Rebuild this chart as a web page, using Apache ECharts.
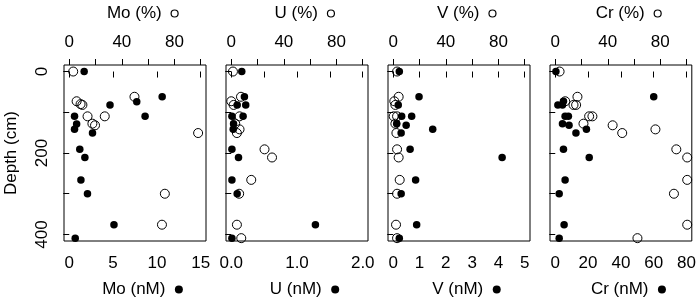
<!DOCTYPE html>
<html>
<head>
<meta charset="utf-8">
<script src="https://cdn.jsdelivr.net/npm/echarts@6/dist/echarts.min.js"></script>
<style>
html,body{margin:0;padding:0;background:#fff}
#chart{width:699px;height:303px}
</style>
</head>
<body>
<div id="chart"></div>
<script>
// panels, left to right
let elements = ["Mo", "U", "V", "Cr"];

// dissolved (nM), filled dots
let moNmDepth = [0, 62, 74, 82, 110, 110, 129, 142, 151, 191, 211, 266, 300, 376, 409];
let moNm      = [1.7, 10.6, 7.7, 4.65, 8.65, 0.6, 0.84, 0.6, 2.65, 1.2, 1.78, 1.33, 2.08, 5.1, 0.68];
let uNmDepth  = [0, 62, 82, 82, 110, 110, 128, 142, 191, 211, 266, 300, 376, 409];
let uNm       = [0.16, 0.2, 0.22, 0.09, 0.18, 0.01, 0.035, 0.03, 0.01, 0.11, 0.01, 0.09, 1.28, 0.01];
let vNmDepth  = [0, 62, 82, 110, 110, 128, 132, 142, 151, 191, 211, 266, 300, 376, 409];
let vNm       = [0.23, 0.98, 0.19, 0.32, 0.7, 0.13, 0.49, 1.5, 0.3, 0.64, 4.14, 0.85, 0.3, 0.89, 0.23];
let crNmDepth = [0, 62, 73, 82, 82, 110, 110, 128, 132, 142, 151, 191, 211, 266, 300, 376, 409];
let crNm      = [0.4, 60, 5, 1.6, 4.4, 6, 8, 4.4, 8.4, 19, 12.6, 5, 20.7, 6, 2.4, 5.4, 2.4];

// percentages, open circles
let moPctDepth = [0, 62, 73, 80, 82, 110, 110, 128, 132, 151, 300, 376];
let moPct      = [3, 49.6, 5.6, 8.6, 10, 13.9, 27, 17.6, 19.6, 98, 72.7, 70.5];
let uPctDepth  = [0, 62, 73, 82, 110, 128, 142, 151, 191, 211, 266, 300, 376, 409];
let uPct       = [1.3, 7.4, 0, 1.8, 6.3, 3, 6.3, 4.3, 25.3, 31, 15.2, 6, 4.3, 7.6];
let vPctDepth  = [0, 62, 73, 82, 110, 110, 128, 151, 191, 211, 266, 300, 376, 409];
let vPct       = [2.9, 4.1, 0.8, 1.6, 0.3, 2.9, 1.6, 2.4, 2.9, 4.1, 4.9, 2.9, 2.1, 2.9];
let crPctDepth = [0, 62, 73, 82, 82, 110, 110, 128, 132, 142, 151, 191, 211, 266, 300, 376, 409];
let crPct      = [3.3, 16.9, 7.6, 13.9, 15.9, 25.8, 28.3, 21.5, 43.7, 76.3, 51, 92.2, 100.5, 100.5, 90.4, 100.5, 62.6];

// tick marks and labels
let nmTicks   = [[0, 5, 10, 15], [0, 0.5, 1, 1.5, 2], [0, 1, 2, 3, 4, 5], [0, 20, 40, 60, 80]];
let nmLabels  = [[0, 5, 10, 15], [0, 1, 2], [0, 1, 2, 3, 4, 5], [0, 20, 40, 60, 80]];
let nmRange   = [[-0.6, 15.6], [-0.08, 2.08], [-0.2, 5.2], [-3.2, 83.2]];
let pctTicks  = [0, 20, 40, 60, 80, 100];
let pctLabels = [0, 40, 80];
let depthTicks  = [0, 100, 200, 300, 400];
let depthLabels = [0, 200, 400];

let nmData  = [[moNm, moNmDepth], [uNm, uNmDepth], [vNm, vNmDepth], [crNm, crNmDepth]];
let pctData = [[moPct, moPctDepth], [uPct, uPctDepth], [vPct, vPctDepth], [crPct, crPctDepth]];

let font = "Liberation Sans, Arial, sans-serif";
let fs = 17;
let gridLeft = [64, 226, 388, 550];
let rich = {
    sp:   {width: 15},
    dot:  {width: 8, height: 8, borderRadius: 4, backgroundColor: "#000"},
    ring: {width: 7, height: 7, borderRadius: 5, borderColor: "#000", borderWidth: 1.2}
};
let tickStyle = {show: true, length: 6, lineStyle: {color: "#000", width: 1}};

let pairs = (xs, ys) => xs.map((x, i) => [x, ys[i]]);

let grid = [], xAxis = [], yAxis = [], series = [];
for (let i = 0; i < 4; i++) {
    grid.push({left: gridLeft[i], top: 60, width: 142, height: 182,
        show: true, borderColor: "#000", borderWidth: 1, backgroundColor: "transparent"});
    // bottom: nM
    xAxis.push({
        type: "value", gridIndex: i, position: "bottom",
        min: nmRange[i][0], max: nmRange[i][1],
        axisLine: {show: false}, splitLine: {show: false},
        axisTick: Object.assign({customValues: nmTicks[i]}, tickStyle),
        axisLabel: {customValues: nmLabels[i], margin: 14, color: "#000", fontSize: fs, fontFamily: font,
            formatter: v => i === 1 ? v.toFixed(1) : String(v)},
        name: "{sp|}" + elements[i] + " (nM)  {dot|}", nameLocation: "middle", nameGap: 40,
        nameTextStyle: {color: "#000", fontSize: fs, fontFamily: font, rich: rich}
    });
    // top: %
    xAxis.push({
        type: "value", gridIndex: i, position: "top",
        min: -4, max: 104,
        axisLine: {show: false}, splitLine: {show: false},
        axisTick: Object.assign({customValues: pctTicks}, tickStyle),
        axisLabel: {customValues: pctLabels, margin: 14, color: "#000", fontSize: fs, fontFamily: font},
        name: "{sp|}" + elements[i] + " (%)  {ring|}", nameLocation: "middle", nameGap: 43,
        nameTextStyle: {color: "#000", fontSize: fs, fontFamily: font, rich: rich}
    });
    yAxis.push({
        type: "value", gridIndex: i, inverse: true,
        min: -16, max: 416,
        axisLine: {show: false}, splitLine: {show: false},
        axisTick: Object.assign({customValues: depthTicks}, tickStyle),
        axisLabel: {show: i === 0, customValues: depthLabels, rotate: 90, margin: 13,
            color: "#000", fontSize: fs, fontFamily: font},
        name: i === 0 ? "Depth (cm)" : "", nameLocation: "middle", nameGap: 44,
        nameTextStyle: {color: "#000", fontSize: fs, fontFamily: font}
    });
    series.push({
        type: "scatter", xAxisIndex: 2 * i, yAxisIndex: i,
        data: pairs(nmData[i][0], nmData[i][1]),
        symbol: "circle", symbolSize: 7.5,
        itemStyle: {color: "#000", opacity: 1}
    });
    series.push({
        type: "scatter", xAxisIndex: 2 * i + 1, yAxisIndex: i,
        data: pairs(pctData[i][0], pctData[i][1]),
        symbol: "circle", symbolSize: 9,
        itemStyle: {color: "transparent", borderColor: "#000", borderWidth: 1, opacity: 1}
    });
}

let myChart = echarts.init(document.getElementById("chart"), null, {renderer: "canvas"});
myChart.setOption({
    animation: false,
    backgroundColor: "#fff",
    grid: grid,
    xAxis: xAxis,
    yAxis: yAxis,
    series: series
});
</script>
</body>
</html>
